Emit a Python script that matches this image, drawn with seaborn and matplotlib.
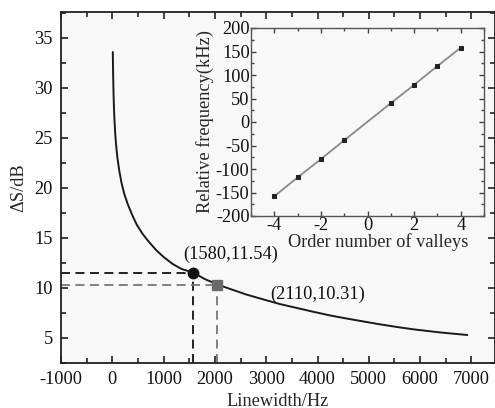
import matplotlib
matplotlib.use("Agg")
import matplotlib.pyplot as plt
from matplotlib.ticker import MultipleLocator
import seaborn as sns
import pandas as pd

# Main curve: delta S vs linewidth
linewidth_hz = [10, 13, 18, 25, 32, 40, 55, 72, 100, 137, 180, 234, 300, 396, 480,
                592, 700, 853, 1000, 1178, 1350, 1580, 1800, 2050, 2300, 2611,
                2950, 3262, 3600, 3912, 4250, 4564, 4900, 5215, 5550, 5865, 6400, 6920]
delta_s_db = [33.6, 32.3, 30.9, 29.3, 28.1, 27.0, 25.6, 24.4, 23.0, 21.7, 20.5,
              19.4, 18.4, 17.2, 16.3, 15.4, 14.7, 13.8, 13.1, 12.4, 11.9, 11.54,
              10.9, 10.35, 9.9, 9.35, 8.85, 8.4, 8.0, 7.63, 7.25, 6.95, 6.65,
              6.37, 6.1, 5.87, 5.55, 5.3]

# Highlighted points
pt1 = (1580, 11.54)
pt2 = (2050, 10.31)
pt1_label = "(1580,11.54)"
pt2_label = "(2110,10.31)"

# Inset: relative frequency vs order number of valleys
order = [-4, -3, -2, -1, 1, 2, 3, 4]
rel_freq = [-158, -118, -79, -39, 40, 79, 119, 158]

sns.set_theme(style="ticks")
plt.rcParams['font.family'] = ['Liberation Serif', 'DejaVu Serif']
plt.rcParams['axes.unicode_minus'] = False

FS = 13.2
W, H = 495, 408
fig = plt.figure(figsize=(W / 100, H / 100), dpi=100)
fig.patch.set_facecolor("white")

def box(l, t, r, b):
    return [l / W, 1 - b / H, (r - l) / W, (b - t) / H]

ax = fig.add_axes(box(61, 12, 495, 363))
ax.set_facecolor("#f8f8f8")

df = pd.DataFrame({"lw": linewidth_hz, "ds": delta_s_db})
sns.lineplot(data=df, x="lw", y="ds", ax=ax, color="#1a1a1a", lw=1.4, sort=False)

xmin, ymin = -1000, 2.5
ax.set_xlim(xmin, 7460)
ax.set_ylim(ymin, 37.6)

dash = (0, (5, 3))
ax.plot([xmin, pt1[0]], [pt1[1], pt1[1]], color="#111111", lw=1.3, ls=dash)
ax.plot([pt1[0], pt1[0]], [ymin, pt1[1]], color="#111111", lw=1.3, ls=dash)
ax.plot([xmin, pt2[0]], [pt2[1], pt2[1]], color="#777777", lw=1.3, ls=dash)
ax.plot([pt2[0], pt2[0]], [ymin, pt2[1]], color="#777777", lw=1.3, ls=dash)
ax.plot([pt1[0]], [pt1[1]], marker="o", ms=7.5, color="#111111", zorder=5)
ax.plot([pt2[0]], [pt2[1]], marker="s", ms=6.5, color="#6a6a6a", zorder=5)

ax.annotate(pt1_label, (pt1[0], pt1[1]), xytext=(37, 18), textcoords="offset pixels",
            ha="center", va="center", fontsize=FS, color="#111111")
ax.annotate(pt2_label, (pt2[0], pt2[1]), xytext=(100, -9), textcoords="offset pixels",
            ha="center", va="center", fontsize=FS, color="#111111")

ax.set_xlabel("Linewidth/Hz", fontsize=FS, labelpad=3)
ax.set_ylabel("ΔS/dB", fontsize=FS, labelpad=5)
ax.xaxis.set_major_locator(MultipleLocator(1000))
ax.xaxis.set_minor_locator(MultipleLocator(500))
ax.yaxis.set_major_locator(MultipleLocator(5))
ax.yaxis.set_minor_locator(MultipleLocator(2.5))
ax.tick_params(which="both", direction="in", top=True, right=True, colors="#222222",
               labelsize=FS, width=1.2, pad=6)
ax.tick_params(which="major", length=5)
ax.tick_params(which="minor", length=3.5)
for lab in ax.get_xticklabels() + ax.get_yticklabels():
    lab.set_color("#111111")
for s in ax.spines.values():
    s.set_linewidth(1.3)
    s.set_color("#222222")

# Inset
axi = fig.add_axes(box(251, 28, 484, 216))
axi.set_facecolor("#f8f8f8")
dfi = pd.DataFrame({"order": order, "freq": rel_freq})
sns.lineplot(data=dfi, x="order", y="freq", ax=axi, color="#8a8a8a", lw=1.3,
             marker="s", markersize=3.5, markerfacecolor="#222222",
             markeredgecolor="#222222")
axi.set_xlim(-5, 5)
axi.set_ylim(-200, 200)
axi.xaxis.set_major_locator(MultipleLocator(2))
axi.xaxis.set_minor_locator(MultipleLocator(1))
axi.yaxis.set_major_locator(MultipleLocator(50))
axi.yaxis.set_minor_locator(MultipleLocator(25))
axi.tick_params(which="both", direction="in", top=True, right=True, colors="#444444",
                labelsize=FS, width=1.0, pad=1)
axi.tick_params(which="major", length=3.5)
axi.tick_params(which="minor", length=2.5)
for lab in axi.get_xticklabels() + axi.get_yticklabels():
    lab.set_color("#111111")
axi.set_xlabel("Order number of valleys", fontsize=FS, labelpad=-1)
axi.xaxis.label.set_x(0.545)
axi.set_ylabel("Relative frequency(kHz)", fontsize=FS, labelpad=1)
for s in axi.spines.values():
    s.set_linewidth(1.0)
    s.set_color("#555555")

fig.savefig("out.png", dpi=100)
